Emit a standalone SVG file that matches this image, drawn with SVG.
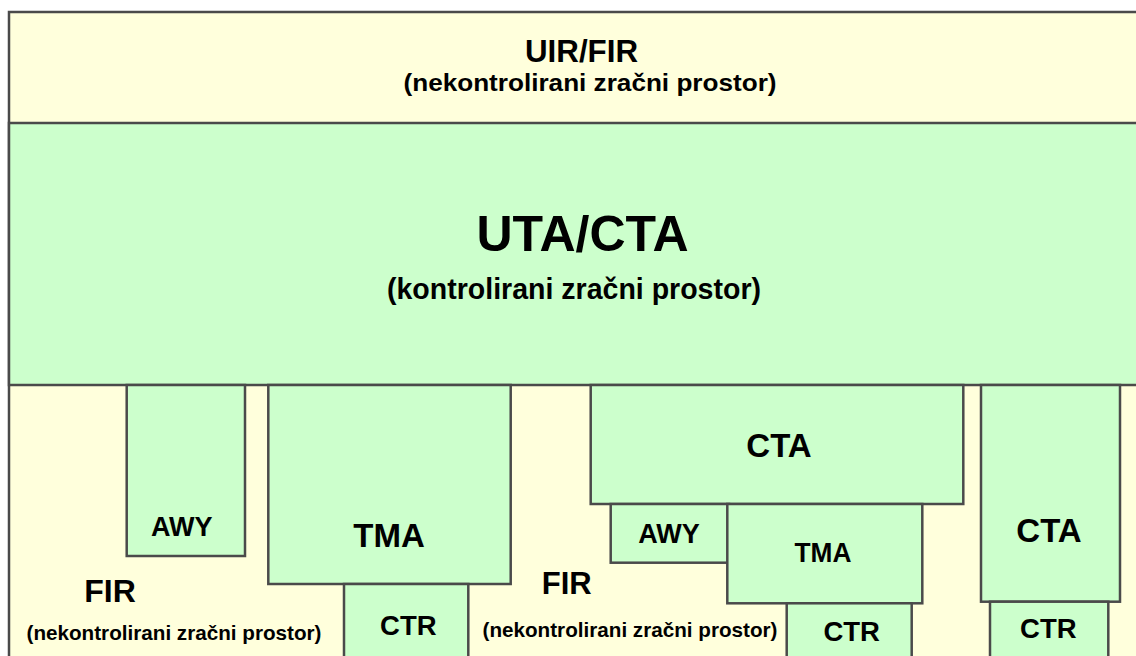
<svg xmlns="http://www.w3.org/2000/svg" width="1136" height="656" viewBox="0 0 1136 656">
<style>
.bg{fill:#ffffff}
.fir{fill:#ffffdc;stroke:#4a4a4a;stroke-width:2.5}
.ctl{fill:#ccffcc;stroke:#4a4a4a;stroke-width:2.5}
text{font-family:"Liberation Sans",Arial,Helvetica,sans-serif;font-weight:bold;fill:#000;text-anchor:middle}
</style>
<rect class="bg" x="0" y="0" width="1136" height="656"/>
<g id="uir-fir">
<rect class="fir" x="9" y="12" width="1140" height="660"/>
<text x="581.5" y="61.7" font-size="31" textLength="113" lengthAdjust="spacingAndGlyphs">UIR/FIR</text>
<text x="590" y="90.7" font-size="24" textLength="373" lengthAdjust="spacingAndGlyphs">(nekontrolirani zračni prostor)</text>
</g>
<g id="uta-cta">
<rect class="ctl" x="9" y="123" width="1140" height="262"/>
<text x="582.5" y="250.7" font-size="50" textLength="212" lengthAdjust="spacingAndGlyphs">UTA/CTA</text>
<text x="574" y="299.3" font-size="29" textLength="374" lengthAdjust="spacingAndGlyphs">(kontrolirani zračni prostor)</text>
</g>
<g id="fir-left">
<text x="110" y="601.7" font-size="32">FIR</text>
<text x="174" y="640" font-size="20.6" textLength="295" lengthAdjust="spacingAndGlyphs">(nekontrolirani zračni prostor)</text>
</g>
<g id="fir-mid">
<text x="566.7" y="594" font-size="31">FIR</text>
<text x="630" y="636.7" font-size="20.6" textLength="295" lengthAdjust="spacingAndGlyphs">(nekontrolirani zračni prostor)</text>
</g>
<g id="awy1">
<rect class="ctl" x="126.7" y="385" width="118.3" height="171"/>
<text x="181.7" y="535.7" font-size="27">AWY</text>
</g>
<g id="tma1">
<rect class="ctl" x="268.3" y="385" width="242.4" height="199"/>
<text x="389" y="546.7" font-size="33">TMA</text>
</g>
<g id="ctr1">
<rect class="ctl" x="344" y="584" width="124.3" height="80"/>
<text x="408.3" y="635" font-size="27.5">CTR</text>
</g>
<g id="cta1">
<rect class="ctl" x="590.7" y="385" width="372.6" height="119"/>
<text x="779" y="457.3" font-size="33">CTA</text>
</g>
<g id="awy2">
<rect class="ctl" x="610.7" y="504" width="118.3" height="58.7"/>
<text x="669" y="543.3" font-size="27">AWY</text>
</g>
<g id="tma2">
<rect class="ctl" x="727.3" y="504" width="195" height="99.3"/>
<text x="823" y="561.7" font-size="28" textLength="57" lengthAdjust="spacingAndGlyphs">TMA</text>
</g>
<g id="ctr2">
<rect class="ctl" x="786.7" y="603.3" width="125" height="60"/>
<text x="851.7" y="640.7" font-size="27.5">CTR</text>
</g>
<g id="cta2">
<rect class="ctl" x="981" y="385" width="139" height="216.7"/>
<text x="1049" y="542.3" font-size="33">CTA</text>
</g>
<g id="ctr3">
<rect class="ctl" x="990" y="601.7" width="118.3" height="62"/>
<text x="1048.3" y="638.3" font-size="27.5">CTR</text>
</g>
</svg>
